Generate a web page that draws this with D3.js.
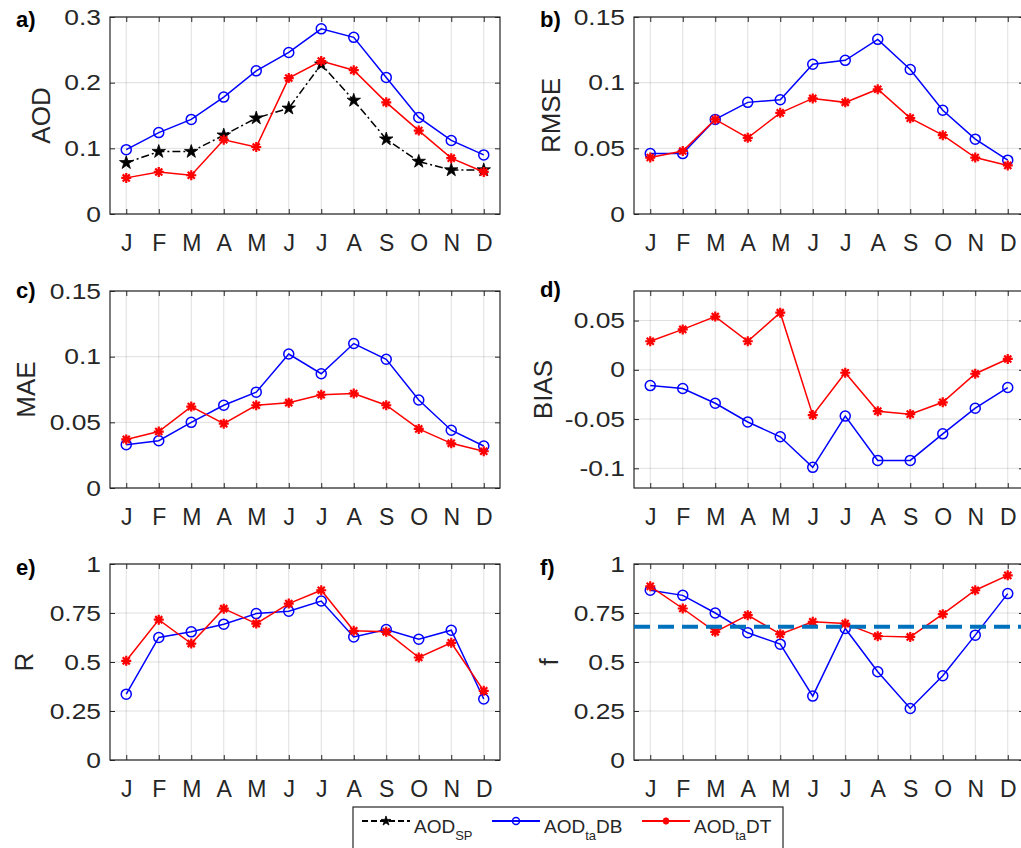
<!DOCTYPE html>
<html>
<head>
    <title>Monthly AOD statistics</title>
    <script src="https://d3js.org/d3.v7.min.js"></script>
    <style>
        body {
            margin: 0;
            padding: 0;
            background: #ffffff;
            overflow: hidden;
            font-family: "Liberation Sans", Arial, sans-serif;
        }
        .grid line { stroke: rgba(38,38,38,0.15); stroke-width: 1; }
        .frame { fill: none; stroke: #262626; stroke-width: 1.2; }
        .axis line { stroke: #262626; stroke-width: 1; }
        .axis path { display: none; }
        .axis text { fill: #262626; font-family: "Liberation Sans", Arial, sans-serif; }
        .ylabel { fill: #262626; font-size: 26px; }
        .plabel { fill: #000; font-size: 22px; font-weight: bold; }
    </style>
</head>
<body>
    <div id="chart"></div>
    <script>
        const width = 1021;
        const height = 848;

        // Data
        const months = ['J', 'F', 'M', 'A', 'M', 'J', 'J', 'A', 'S', 'O', 'N', 'D'];

        const aodSP = [0.078, 0.095, 0.095, 0.120, 0.146, 0.161, 0.228, 0.173, 0.114, 0.080, 0.067, 0.067];
        const aodDB = [0.098, 0.124, 0.144, 0.178, 0.218, 0.246, 0.282, 0.269, 0.208, 0.147, 0.112, 0.090];
        const aodDT = [0.055, 0.064, 0.059, 0.113, 0.102, 0.207, 0.233, 0.219, 0.170, 0.127, 0.085, 0.064];

        const rmseDB = [0.046, 0.046, 0.072, 0.085, 0.087, 0.114, 0.117, 0.133, 0.110, 0.079, 0.057, 0.041];
        const rmseDT = [0.043, 0.048, 0.072, 0.058, 0.077, 0.088, 0.085, 0.095, 0.073, 0.060, 0.043, 0.037];

        const maeDB = [0.033, 0.036, 0.050, 0.063, 0.073, 0.102, 0.087, 0.110, 0.098, 0.067, 0.044, 0.032];
        const maeDT = [0.037, 0.043, 0.062, 0.049, 0.063, 0.065, 0.071, 0.072, 0.063, 0.045, 0.034, 0.028];

        const biasDB = [-0.016, -0.019, -0.034, -0.053, -0.068, -0.099, -0.047, -0.092, -0.092, -0.065, -0.039, -0.018];
        const biasDT = [0.029, 0.041, 0.054, 0.029, 0.058, -0.046, -0.003, -0.042, -0.045, -0.033, -0.004, 0.011];

        const rDB = [0.336, 0.625, 0.654, 0.693, 0.747, 0.759, 0.811, 0.628, 0.666, 0.616, 0.662, 0.311];
        const rDT = [0.506, 0.716, 0.594, 0.772, 0.696, 0.798, 0.866, 0.659, 0.654, 0.523, 0.598, 0.353];

        const fDB = [0.866, 0.840, 0.750, 0.649, 0.591, 0.326, 0.671, 0.450, 0.263, 0.430, 0.637, 0.849];
        const fDT = [0.886, 0.773, 0.654, 0.739, 0.642, 0.705, 0.696, 0.632, 0.628, 0.744, 0.866, 0.942];
        const fThreshold = 0.68;

        const styles = {
            SP: { color: '#000000', marker: 'star', dash: '8,3,2,3' },
            DB: { color: '#0000ff', marker: 'circle', dash: null },
            DT: { color: '#ff0000', marker: 'asterisk', dash: null }
        };

        const panels = [
            { tag: 'a)', tx: 16, ty: 27, left: 110, top: 17, bottom: 214, domain: [0, 0.3], ticks: [0, 0.1, 0.2, 0.3],
              ylabel: 'AOD', ylx: 50, series: [['SP', aodSP], ['DB', aodDB], ['DT', aodDT]] },
            { tag: 'b)', tx: 540, ty: 27, left: 634, top: 17, bottom: 214, domain: [0, 0.15], ticks: [0, 0.05, 0.1, 0.15],
              ylabel: 'RMSE', ylx: 560, series: [['DB', rmseDB], ['DT', rmseDT]] },
            { tag: 'c)', tx: 16, ty: 298, left: 110, top: 291, bottom: 488, domain: [0, 0.15], ticks: [0, 0.05, 0.1, 0.15],
              ylabel: 'MAE', ylx: 35, series: [['DB', maeDB], ['DT', maeDT]] },
            { tag: 'd)', tx: 540, ty: 297, left: 634, top: 291, bottom: 488, domain: [-0.12, 0.08], ticks: [-0.1, -0.05, 0, 0.05],
              ylabel: 'BIAS', ylx: 552, series: [['DB', biasDB], ['DT', biasDT]] },
            { tag: 'e)', tx: 16, ty: 575, left: 110, top: 564, bottom: 760, domain: [0, 1], ticks: [0, 0.25, 0.5, 0.75, 1],
              ylabel: 'R', ylx: 33, series: [['DB', rDB], ['DT', rDT]] },
            { tag: 'f)', tx: 540, ty: 575, left: 634, top: 564, bottom: 760, domain: [0, 1], ticks: [0, 0.25, 0.5, 0.75, 1],
              ylabel: 'f', ylx: 558, series: [['DB', fDB], ['DT', fDT]], hline: fThreshold }
        ];

        const svg = d3.select('#chart')
            .append('svg')
            .attr('width', width)
            .attr('height', height);

        // MATLAB style '*' marker: 8 spokes
        function asteriskPath(r) {
            const d = r * Math.SQRT1_2;
            return `M${-r},0L${r},0M0,${-r}L0,${r}M${-d},${-d}L${d},${d}M${-d},${d}L${d},${-d}`;
        }

        function drawMarker(sel, type, size) {
            const st = Object.values(styles).find(s => s.marker === type);
            if (type === 'circle') {
                sel.append('circle')
                    .attr('r', size)
                    .attr('fill', 'none')
                    .attr('stroke', st.color)
                    .attr('stroke-width', 1.5);
            } else if (type === 'asterisk') {
                sel.append('path')
                    .attr('d', asteriskPath(size))
                    .attr('stroke', st.color)
                    .attr('stroke-width', 2.2)
                    .attr('fill', 'none');
            } else {
                sel.append('path')
                    .attr('d', d3.symbol().type(d3.symbolStar).size(size * size * 1.15)())
                    .attr('fill', st.color)
                    .attr('stroke', st.color)
                    .attr('stroke-width', 0.8);
            }
        }

        panels.forEach(p => {
            const right = p.left + 390;
            const x = d3.scaleLinear().domain([0.5, 12.5]).range([p.left, right]);
            const y = d3.scaleLinear().domain(p.domain).range([p.bottom, p.top]);
            const idx = d3.range(1, 13);
            const g = svg.append('g');

            // grid
            const grid = g.append('g').attr('class', 'grid');
            grid.selectAll('.gx').data(idx).join('line')
                .attr('x1', d => x(d)).attr('x2', d => x(d))
                .attr('y1', p.top).attr('y2', p.bottom);
            grid.selectAll('.gy').data(p.ticks).join('line')
                .attr('x1', p.left).attr('x2', right)
                .attr('y1', d => y(d)).attr('y2', d => y(d));

            // axes with inward ticks
            g.append('g').attr('class', 'axis')
                .attr('transform', `translate(0,${p.bottom})`)
                .call(d3.axisBottom(x).tickValues(idx).tickSizeInner(-5).tickSizeOuter(0)
                    .tickFormat(i => months[i - 1]))
                .selectAll('text')
                .attr('dy', null)
                .attr('y', 37)
                .style('font-size', '23px');

            g.append('g').attr('class', 'axis')
                .attr('transform', `translate(0,${p.top})`)
                .call(d3.axisTop(x).tickValues(idx).tickSizeInner(-5).tickSizeOuter(0).tickFormat(''));

            g.append('g').attr('class', 'axis')
                .attr('transform', `translate(${p.left},0)`)
                .call(d3.axisLeft(y).tickValues(p.ticks).tickSizeInner(-5).tickSizeOuter(0)
                    .tickFormat(d => String(d)))
                .selectAll('text')
                .attr('x', 0)
                .attr('transform', 'translate(-9,0) scale(1.2,1)')
                .style('font-size', '22px');

            g.append('g').attr('class', 'axis')
                .attr('transform', `translate(${right},0)`)
                .call(d3.axisRight(y).tickValues(p.ticks).tickSizeInner(-5).tickSizeOuter(0).tickFormat(''));

            g.append('rect').attr('class', 'frame')
                .attr('x', p.left).attr('y', p.top)
                .attr('width', right - p.left).attr('height', p.bottom - p.top);

            // series
            p.series.forEach(([key, vals]) => {
                const st = styles[key];
                const line = d3.line().x((d, i) => x(i + 1)).y(d => y(d));
                g.append('path')
                    .datum(vals)
                    .attr('d', line)
                    .attr('fill', 'none')
                    .attr('stroke', st.color)
                    .attr('stroke-width', 1.5)
                    .attr('stroke-dasharray', st.dash);
                const m = g.append('g').selectAll('g').data(vals).join('g')
                    .attr('transform', (d, i) => `translate(${x(i + 1)},${y(d)})`);
                drawMarker(m, st.marker, st.marker === 'star' ? 7 : 5);
            });

            if (p.hline !== undefined) {
                g.append('line')
                    .attr('x1', p.left).attr('x2', right)
                    .attr('y1', y(p.hline)).attr('y2', y(p.hline))
                    .attr('stroke', '#0072bd')
                    .attr('stroke-width', 4)
                    .attr('stroke-dasharray', '16,8');
            }

            // labels
            const cy = (p.top + p.bottom) / 2;
            svg.append('text').attr('class', 'ylabel')
                .attr('transform', `translate(${p.ylx},${cy}) rotate(-90)`)
                .attr('text-anchor', 'middle')
                .text(p.ylabel);
            svg.append('text').attr('class', 'plabel')
                .attr('x', p.tx).attr('y', p.ty)
                .text(p.tag);
        });

        // Legend
        const legend = svg.append('g');
        legend.append('rect')
            .attr('x', 353).attr('y', 807)
            .attr('width', 430).attr('height', 60)
            .attr('fill', '#fff')
            .attr('stroke', '#262626')
            .attr('stroke-width', 1.2);

        const legendItems = [
            { key: 'SP', x0: 362, sub: 'SP', tail: '' },
            { key: 'DB', x0: 492, sub: 'ta', tail: 'DB' },
            { key: 'DT', x0: 642, sub: 'ta', tail: 'DT' }
        ];
        legendItems.forEach(it => {
            const st = styles[it.key];
            const ly = 821;
            legend.append('line')
                .attr('x1', it.x0).attr('x2', it.x0 + 48)
                .attr('y1', ly).attr('y2', ly)
                .attr('stroke', st.color)
                .attr('stroke-width', 2)
                .attr('stroke-dasharray', it.key === 'SP' ? '6,3' : null);
            const m = legend.append('g').attr('transform', `translate(${it.x0 + 24},${ly})`);
            drawMarker(m, st.marker, st.marker === 'star' ? 5 : 3.5);
            const t = legend.append('text')
                .attr('x', it.x0 + 52).attr('y', 833)
                .attr('fill', '#262626')
                .style('font-size', '19px')
                .text('AOD');
            t.append('tspan').attr('dy', 7).style('font-size', '13px').text(it.sub);
            if (it.tail) t.append('tspan').attr('dy', -7).text(it.tail);
        });
    </script>
</body>
</html>
